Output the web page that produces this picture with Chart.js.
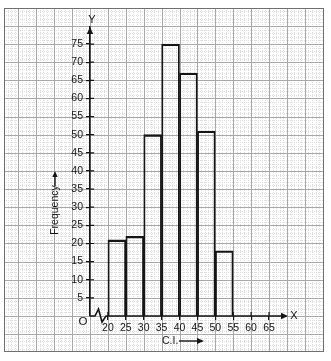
<!DOCTYPE html>
<html>
<head>
<meta charset="utf-8">
<script src="https://cdn.jsdelivr.net/npm/chart.js@4"></script>
<style>
  html, body { margin: 0; padding: 0; background: #fff; }
</style>
</head>
<body>
<canvas id="histogram" width="331" height="361"></canvas>
<script>
// class intervals (C.I.) and their frequencies
const classLimits = [20, 25, 30, 35, 40, 45, 50, 55];
const frequency = [21, 22, 50, 75, 67, 51, 18];
const xTickValues = [20, 25, 30, 35, 40, 45, 50, 55, 60, 65];
const yTickValues = [5, 10, 15, 20, 25, 30, 35, 40, 45, 50, 55, 60, 65, 70, 75];

const ink = "#151515";
const font = "'Liberation Sans', Arial, sans-serif";
const paper = { left: 4, top: 8, right: 323, bottom: 351 };

const bars = frequency.map((f, i) => ({
  x: (classLimits[i] + classLimits[i + 1]) / 2,
  y: f,
}));

// squared graph paper behind everything
const graphPaper = {
  id: "graphPaper",
  beforeDraw(chart) {
    const { ctx } = chart;
    const { x, y } = chart.scales;
    ctx.save();
    ctx.fillStyle = "#fff";
    ctx.fillRect(0, 0, chart.width, chart.height);
    ctx.beginPath();
    ctx.rect(paper.left, paper.top, paper.right - paper.left, paper.bottom - paper.top);
    ctx.clip();

    const x0 = Math.floor(x.getValueForPixel(paper.left));
    const x1 = Math.ceil(x.getValueForPixel(paper.right));
    const y0 = Math.floor(y.getValueForPixel(paper.bottom));
    const y1 = Math.ceil(y.getValueForPixel(paper.top));

    const line = (major) => {
      ctx.strokeStyle = major ? "#a8a8a8" : "#dedede";
      ctx.lineWidth = 1;
      ctx.setLineDash(major ? [] : [1, 1]);
    };
    [false, true].forEach((major) => {
      line(major);
      ctx.beginPath();
      for (let v = x0; v <= x1; v++) {
        if ((v % 5 === 0) !== major) continue;
        const px = Math.round(x.getPixelForValue(v)) + 0.5;
        ctx.moveTo(px, paper.top);
        ctx.lineTo(px, paper.bottom);
      }
      for (let v = y0; v <= y1; v++) {
        if ((v % 5 === 0) !== major) continue;
        const py = Math.round(y.getPixelForValue(v)) + 0.5;
        ctx.moveTo(paper.left, py);
        ctx.lineTo(paper.right, py);
      }
      ctx.stroke();
    });
    ctx.restore();

    ctx.save();
    ctx.strokeStyle = "#6f6f6f";
    ctx.lineWidth = 1;
    ctx.strokeRect(paper.left + 0.5, paper.top + 0.5, paper.right - paper.left, paper.bottom - paper.top);
    ctx.restore();
  },
};

const arrowHead = (ctx, tx, ty, dir, len, half) => {
  ctx.beginPath();
  if (dir === "up") {
    ctx.moveTo(tx, ty);
    ctx.lineTo(tx - half, ty + len);
    ctx.lineTo(tx + half, ty + len);
  } else {
    ctx.moveTo(tx, ty);
    ctx.lineTo(tx - len, ty - half);
    ctx.lineTo(tx - len, ty + half);
  }
  ctx.closePath();
  ctx.fill();
};

// axis arrows, broken x axis, inner tick halves and hand-lettered labels
const axisDecor = {
  id: "axisDecor",
  afterDatasetsDraw(chart) {
    const { ctx, chartArea } = chart;
    const { x, y } = chart.scales;
    const ox = x.getPixelForValue(15);
    const oy = y.getPixelForValue(0);
    ctx.save();
    ctx.strokeStyle = ink;
    ctx.fillStyle = ink;
    ctx.lineWidth = 1.6;
    ctx.lineJoin = "miter";

    // x axis with the kink between O and 20
    ctx.beginPath();
    ctx.moveTo(ox, oy);
    ctx.lineTo(ox + 5, oy);
    ctx.lineTo(ox + 8.5, oy - 7);
    ctx.lineTo(ox + 12, oy + 6);
    ctx.lineTo(ox + 16, oy);
    ctx.lineTo(chartArea.right - 5, oy);
    ctx.stroke();
    arrowHead(ctx, chartArea.right, oy, "right", 7, 3.2);
    arrowHead(ctx, ox, chartArea.top, "up", 7, 3.2);

    // tick marks cross the axes
    ctx.lineWidth = 1.2;
    ctx.beginPath();
    x.ticks.forEach((t) => {
      const px = x.getPixelForValue(t.value);
      ctx.moveTo(px, oy);
      ctx.lineTo(px, oy - 4);
    });
    y.ticks.forEach((t) => {
      const py = y.getPixelForValue(t.value);
      ctx.moveTo(ox, py);
      ctx.lineTo(ox + 4, py);
    });
    ctx.stroke();

    ctx.textBaseline = "middle";
    ctx.textAlign = "center";
    ctx.font = "11px " + font;
    ctx.fillText("Y", ox + 2, chartArea.top - 7);
    ctx.fillText("X", chartArea.right + 6, oy);
    ctx.font = "11.5px " + font;
    ctx.fillText("O", ox - 7, oy + 6);

    // Frequency (rotated) with its arrow
    ctx.font = "10.5px " + font;
    ctx.save();
    ctx.translate(55, 210);
    ctx.rotate(-Math.PI / 2);
    ctx.fillText("Frequency", 0, 0);
    ctx.restore();
    ctx.lineWidth = 1.4;
    ctx.beginPath();
    ctx.moveTo(55, 186);
    ctx.lineTo(55, 176);
    ctx.stroke();
    arrowHead(ctx, 55, 171, "up", 6, 2.6);

    // C.I. with its arrow
    ctx.textAlign = "left";
    ctx.fillText("C.I.", 162, 341);
    ctx.beginPath();
    ctx.moveTo(179, 341);
    ctx.lineTo(198, 341);
    ctx.stroke();
    arrowHead(ctx, 204, 341, "right", 7, 3);
    ctx.restore();
  },
};

const ctx = document.getElementById("histogram").getContext("2d");
const histogram = new Chart(ctx, {
  type: "bar",
  data: {
    datasets: [
      {
        data: bars,
        backgroundColor: "rgba(0,0,0,0)",
        borderColor: ink,
        borderWidth: { top: 1.7, left: 1.2, right: 1.2, bottom: 0 },
        barPercentage: 1,
        categoryPercentage: 1,
        grouped: false,
      },
    ],
  },
  options: {
    responsive: false,
    animation: false,
    devicePixelRatio: 1,
    layout: { padding: { left: 4, top: 27, right: 43, bottom: 10 } },
    plugins: { legend: { display: false }, tooltip: { enabled: false } },
    scales: {
      x: {
        type: "linear",
        min: 15,
        max: 70.3,
        offset: false,
        afterBuildTicks: (scale) => {
          scale.ticks = xTickValues.map((v) => ({ value: v }));
        },
        afterFit: (scale) => {
          scale.height = 35;
        },
        border: { display: false },
        grid: {
          offset: false,
          drawOnChartArea: false,
          drawTicks: true,
          tickLength: 4,
          color: ink,
          lineWidth: 1.2,
        },
        ticks: {
          autoSkip: false,
          maxRotation: 0,
          padding: 2,
          color: ink,
          font: { family: font, size: 10.5 },
        },
      },
      y: {
        min: 0,
        max: 79.7,
        afterBuildTicks: (scale) => {
          scale.ticks = yTickValues.map((v) => ({ value: v }));
        },
        afterFit: (scale) => {
          scale.width = 86;
        },
        border: { display: true, color: ink, width: 1.6 },
        grid: {
          drawOnChartArea: false,
          drawTicks: true,
          tickLength: 4,
          color: ink,
          lineWidth: 1.2,
        },
        ticks: {
          autoSkip: false,
          padding: 3,
          color: ink,
          font: { family: font, size: 10.5 },
        },
      },
    },
  },
  plugins: [graphPaper, axisDecor],
});
</script>
</body>
</html>
